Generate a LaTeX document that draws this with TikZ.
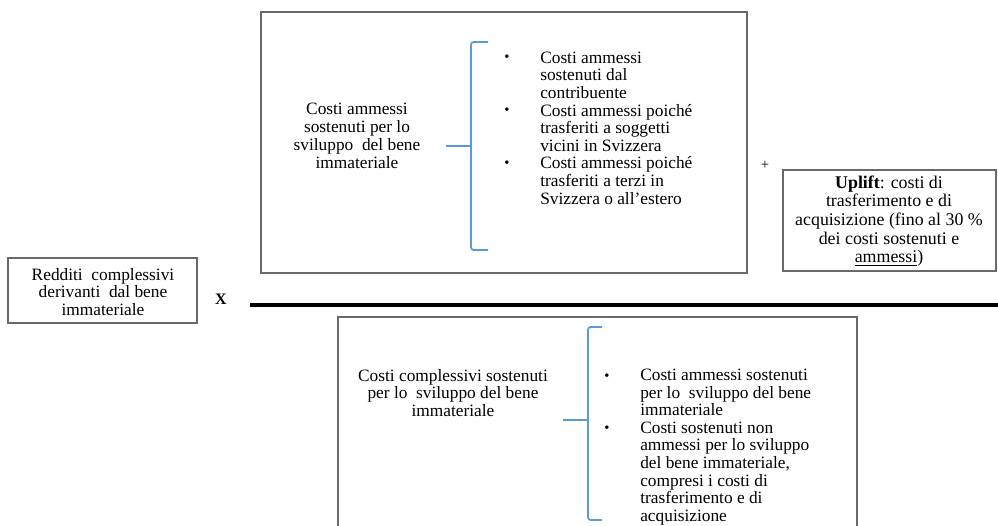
\documentclass[tikz,border=0pt]{standalone}
\usepackage{fontspec}
\setmainfont{Liberation Serif}
\usepackage{xcolor}
\definecolor{bracoblu}{RGB}{91,155,213}
\definecolor{bordogrigio}{RGB}{105,105,105}

\begin{document}
\begin{tikzpicture}[x=0.75pt,y=-0.75pt]
        \tikzstyle{every node}+=[inner sep=0pt]
        \tikzstyle{testo}=[font=\fontsize{13}{13.4}\selectfont, align=center]
        \tikzstyle{elenco}=[font=\fontsize{13}{13.2}\selectfont, align=left, anchor=west]
        \tikzstyle{puntino}=[font=\fontsize{11}{11}\selectfont]
        \tikzstyle{riquadro}=[draw=bordogrigio, line width=1.2pt]
        \tikzstyle{graffa}=[draw=bracoblu, line width=1.3pt, rounded corners=2pt]
        \useasboundingbox (0,0) rectangle (998,525);
        \clip (0,0) rectangle (998,525);
        \draw [riquadro] (261,12) rectangle (747,273);
        \node [testo] (ammessi) at (357,136) {Costi ammessi\\sostenuti per lo\\sviluppo\ \ del bene\\immateriale};
        \coordinate (g1) at (471,146);
        \coordinate (g1a) at (446,146);
        \draw [graffa] (488,42) -- (471,42) -- (471,250) -- (488,250);
        \draw [draw=bracoblu, line width=1.3pt] (g1a) -- (g1);
        \node [elenco] (lista1) at (540,128) {Costi ammessi\\sostenuti dal\\contribuente\\Costi ammessi poiché\\trasferiti a soggetti\\vicini in Svizzera\\Costi ammessi poiché\\trasferiti a terzi in\\Svizzera o all'estero};
        \node [puntino] at (507,58) {•};
        \node [puntino] at (507,111) {•};
        \node [puntino] at (507,164) {•};
        \node [testo, font=\fontsize{11}{11}\selectfont] (piu) at (765,165) {+};
        \draw [riquadro] (783,170) rectangle (996,271);
        \node [testo, font=\fontsize{13.4}{14}\selectfont] (uplift) at (889,221) {\textbf{Uplift}: costi di\\trasferimento e di\\acquisizione (fino al 30 \%\\dei costi sostenuti e\\\underline{ammessi})};
        \draw [riquadro] (8,258) rectangle (197,323);
        \node [testo] (redditi) at (103,292) {Redditi\ \ complessivi\\derivanti\ \ dal bene\\immateriale};
        \node [testo, font=\fontsize{12}{12}\selectfont\bfseries] (per) at (221,299) {X};
        \coordinate (lineaA) at (250,305);
        \coordinate (lineaB) at (998,305);
        \draw [black, line width=2.4pt] (lineaA) -- (lineaB);
        \draw [riquadro] (338,317) rectangle (857,545);
        \node [testo] (complessivi) at (453,393) {Costi complessivi sostenuti\\per lo\ \ sviluppo del bene\\immateriale};
        \coordinate (g2) at (588,420);
        \coordinate (g2a) at (563,420);
        \draw [graffa] (602,327) -- (588,327) -- (588,520) -- (602,520);
        \draw [draw=bracoblu, line width=1.3pt] (g2a) -- (g2);
        \node [elenco] (lista2) at (640,447) {Costi ammessi sostenuti\\per lo\ \ sviluppo del bene\\immateriale\\Costi sostenuti non\\ammessi per lo sviluppo\\del bene immateriale,\\compresi i costi di\\trasferimento e di\\acquisizione};
        \node [puntino] at (607,377) {•};
        \node [puntino] at (607,429) {•};
\end{tikzpicture}
\end{document}
